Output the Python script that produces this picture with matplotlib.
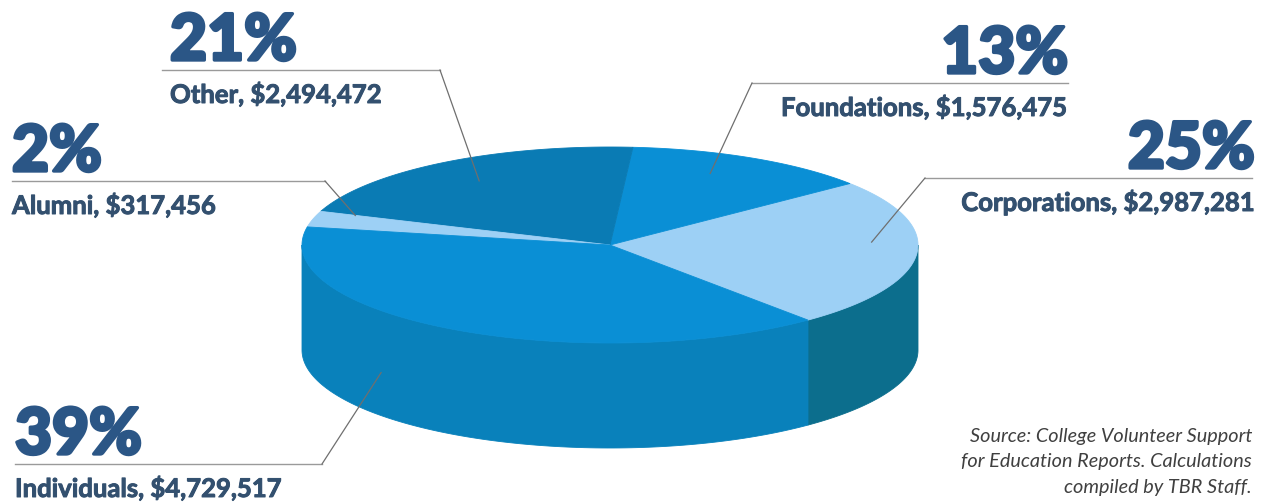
import numpy as np
import matplotlib.pyplot as plt
import matplotlib.patheffects as pe
from matplotlib.patches import Polygon

# giving by source
labels = ["Corporations", "Foundations", "Other", "Alumni", "Individuals"]
amounts = [2987281, 1576475, 2494472, 317456, 4729517]
pct_text = ["25%", "13%", "21%", "2%", "39%"]

top_colors = ["#9dd0f5", "#0a8fd5", "#0a7bb4", "#9dd0f5", "#0a8fd5"]
side_colors = ["#0c6e8d", "#0a7cb5", "#0a6f9c", "#0c6e8d", "#0981bb"]

# pie geometry in pixel space
cx, cy = 610, 245
a, b = 308, 98
depth = 105
start = -50.0

pct_color = "#2b5686"
sub_color = "#33506f"
line_color = "#9a9a9a"
font = "Lato"

fig = plt.figure(figsize=(12.68, 5.04), dpi=100)
ax = fig.add_axes([0, 0, 1, 1])
ax.set_xlim(0, 1268)
ax.set_ylim(504, 0)
ax.axis("off")


def rim(t, drop=0.0, r=1.0):
    t = np.radians(t)
    return np.column_stack([cx + r * a * np.cos(t), cy - r * b * np.sin(t) + drop])


total = sum(amounts)
spans = [360.0 * v / total for v in amounts]
edges = start + np.concatenate([[0], np.cumsum(spans)])

# side walls (front half of the disk only)
for i in range(len(amounts)):
    t0, t1 = edges[i], edges[i + 1]
    for k in (-360, 0, 360):
        lo, hi = max(t0, 180 + k), min(t1, 360 + k)
        if hi <= lo:
            continue
        ts = np.linspace(lo, hi, 120)
        pts = np.vstack([rim(ts), rim(ts[::-1], depth)])
        ax.add_patch(Polygon(pts, closed=True, fc=side_colors[i],
                             ec=side_colors[i], lw=0.6, zorder=1))

# top face wedges
for i in range(len(amounts)):
    ts = np.linspace(edges[i], edges[i + 1], 200)
    pts = np.vstack([[cx, cy], rim(ts)])
    ax.add_patch(Polygon(pts, closed=True, fc=top_colors[i],
                         ec=top_colors[i], lw=0.6, zorder=2))

# label layout: (text x, percent baseline y, ha, rule x-range, anchor angle, anchor r, anchor drop)
layout = {
    "Other":        (170, 60, "left", (162, 440), 123, 0.78, 0),
    "Alumni":       (12, 171, "left", (12, 325), 160, 0.88, 0),
    "Foundations":  (1068, 73, "right", (752, 1068), 66, 0.8, 0),
    "Corporations": (1255, 168, "right", (925, 1252), 2, 0.85, 0),
    "Individuals":  (15, 454, "left", (15, 322), 222, 1.0, 62),
}

for i, name in enumerate(labels):
    tx, base, ha, (x0, x1), ang, r, drop = layout[name]
    ry = base + 10
    anchor = rim(np.array([ang]), drop, r)[0]
    knee_x = x1 if ha == "left" else x0
    ax.plot([x0, x1], [ry, ry], color=line_color, lw=1.0, zorder=3)
    ax.plot([knee_x, anchor[0]], [ry, anchor[1]], color="#6f6f6f", lw=0.9, zorder=3)
    ax.text(tx, base, pct_text[i], ha=ha, va="baseline", fontsize=46,
            fontweight="black", color=pct_color, family=font, zorder=4,
            path_effects=[pe.withStroke(linewidth=2.4, foreground=pct_color)])
    ax.text(tx, ry + 24, f"{name}, ${amounts[i]:,}", ha=ha, va="center",
            fontsize=18.5, fontweight="bold", color=sub_color, family=font, zorder=4,
            path_effects=[pe.withStroke(linewidth=0.7, foreground=sub_color)])

source = ("Source: College Volunteer Support\n"
          "for Education Reports. Calculations\n"
          "compiled by TBR Staff.")
ax.text(1252, 462, source, ha="right", va="center", fontsize=14.3,
        style="italic", color="#404040", family=font,
        linespacing=1.62, multialignment="right")

fig.savefig("out.png", dpi=100, facecolor="white")
